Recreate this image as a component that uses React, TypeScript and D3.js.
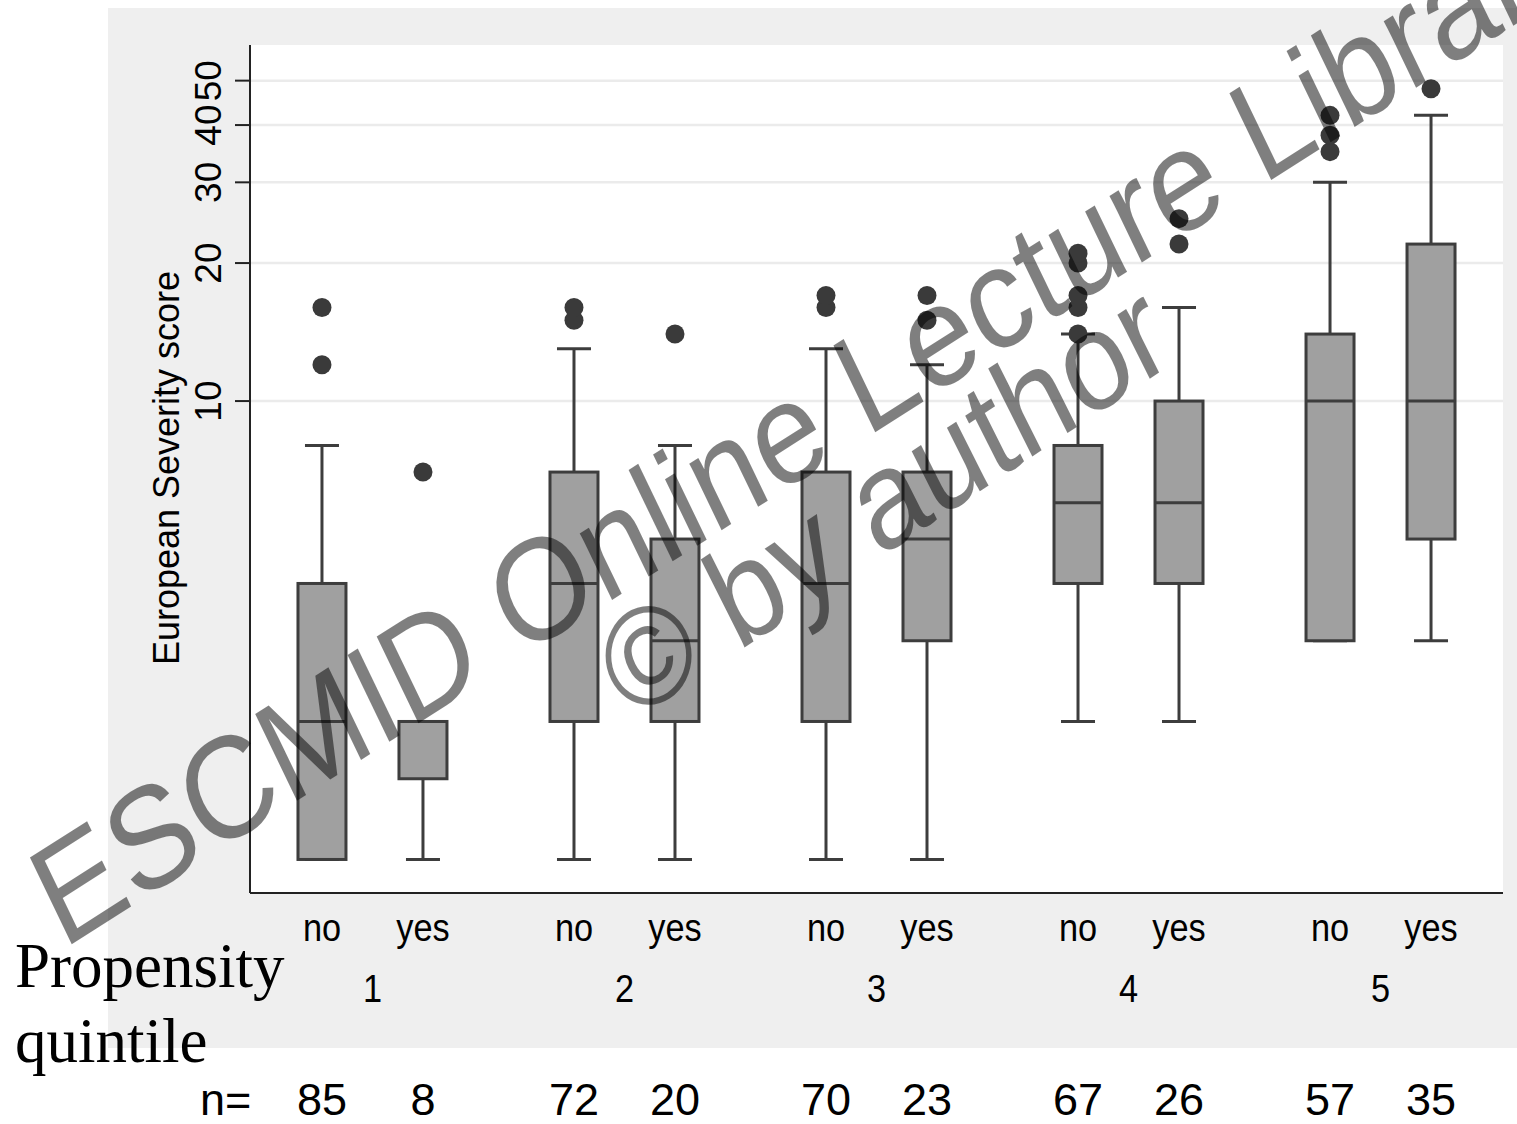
import React from 'react';
import * as d3 from 'd3';

// Propensity quintiles and the two treatment groups inside each one
const quintiles = ['1', '2', '3', '4', '5'];
const treatment = ['no', 'yes'];

// one entry per box, ordered 1-no, 1-yes, 2-no, ...
const counts = [85, 8, 72, 20, 70, 23, 67, 26, 57, 35];
const lowerWhisker = [1, 1, 1, 1, 1, 1, 2, 2, 3, 3];
const lowerQuartile = [1, 1.5, 2, 2, 2, 3, 4, 4, 3, 5];
const medians = [2, 2, 4, 3, 4, 5, 6, 6, 10, 10];
const upperQuartile = [4, 2, 7, 5, 7, 7, 8, 10, 14, 22];
const upperWhisker = [8, 2, 13, 8, 13, 12, 14, 16, 30, 42];
const outliers = [
  [12, 16],
  [7],
  [15, 16],
  [14],
  [16, 17],
  [15, 17],
  [14, 16, 17, 20, 21],
  [22, 25],
  [35, 38, 42],
  [48],
];

const yTicks = [10, 20, 30, 40, 50];

const W = 1517;
const H = 1124;
const plot = { left: 250, right: 1503, top: 45, bottom: 893 };

const sans = "'Liberation Sans', Arial, Helvetica, sans-serif";
const serif = "'Liberation Serif', 'Times New Roman', Times, serif";

const App = () => {
  const y = d3.scaleLog().domain([0.845, 59.8]).range([plot.bottom, plot.top]);
  const xGroup = d3.scalePoint<string>().domain(quintiles).range([plot.left, plot.right]).padding(0.486);
  const xSub = d3.scalePoint<string>().domain(treatment).range([-50.5, 50.5]);

  const boxes = counts.map((n, i) => {
    const g = quintiles[Math.floor(i / 2)];
    const t = treatment[i % 2];
    return {
      n,
      cx: (xGroup(g) as number) + (xSub(t) as number),
      t,
      lw: lowerWhisker[i],
      q1: lowerQuartile[i],
      med: medians[i],
      q3: upperQuartile[i],
      uw: upperWhisker[i],
      out: outliers[i],
    };
  });

  const boxW = 48;
  const capW = 34;
  const dark = '#3d3d3d';

  return (
    <svg width={W} height={H} style={{ position: 'absolute', left: 0, top: 0, background: '#fff' }}>
      {/* outer graph region */}
      <rect x={108} y={8} width={W - 108} height={1040} fill="#efefef" />
      {/* plot region */}
      <rect x={plot.left} y={plot.top} width={plot.right - plot.left} height={plot.bottom - plot.top} fill="#fff" />

      {/* grid */}
      {yTicks.map((t) => (
        <line key={t} x1={plot.left} x2={plot.right} y1={y(t)} y2={y(t)} stroke="#ebebeb" strokeWidth={2.5} />
      ))}

      {/* boxes */}
      {boxes.map((b, i) => (
        <g key={i} stroke={dark} strokeWidth={3}>
          <line x1={b.cx} x2={b.cx} y1={y(b.q3)} y2={y(b.uw)} />
          <line x1={b.cx - capW / 2} x2={b.cx + capW / 2} y1={y(b.uw)} y2={y(b.uw)} />
          <line x1={b.cx} x2={b.cx} y1={y(b.q1)} y2={y(b.lw)} />
          <line x1={b.cx - capW / 2} x2={b.cx + capW / 2} y1={y(b.lw)} y2={y(b.lw)} />
          <rect x={b.cx - boxW / 2} y={y(b.q3)} width={boxW} height={y(b.q1) - y(b.q3)} fill="#a0a0a0" />
          <line x1={b.cx - boxW / 2} x2={b.cx + boxW / 2} y1={y(b.med)} y2={y(b.med)} />
          {b.out.map((v, j) => (
            <circle key={j} cx={b.cx} cy={y(v)} r={9.5} fill="#3a3a3a" stroke="none" />
          ))}
        </g>
      ))}

      {/* axes */}
      <line x1={plot.left} x2={plot.left} y1={plot.top} y2={plot.bottom} stroke="#222" strokeWidth={2} />
      <line x1={plot.left} x2={plot.right} y1={plot.bottom} y2={plot.bottom} stroke="#222" strokeWidth={2} />
      {yTicks.map((t) => (
        <g key={t}>
          <line x1={plot.left - 15} x2={plot.left} y1={y(t)} y2={y(t)} stroke="#222" strokeWidth={2} />
          <text
            transform={`translate(221,${y(t)}) rotate(-90)`}
            textAnchor="middle"
            fontFamily={sans}
            fontSize={37}
            fill="#000"
          >
            {t}
          </text>
        </g>
      ))}
      <text
        transform="translate(179,468) rotate(-90)"
        textAnchor="middle"
        fontFamily={sans}
        fontSize={36}
        fill="#000"
      >
        European Severity score
      </text>

      {/* category labels */}
      {boxes.map((b, i) => (
        <text
          key={i}
          transform={`translate(${b.cx},941) scale(0.88,1)`}
          textAnchor="middle"
          fontFamily={sans}
          fontSize={39}
          fill="#000"
        >
          {b.t}
        </text>
      ))}
      {quintiles.map((q) => (
        <text
          key={q}
          transform={`translate(${xGroup(q)},1002) scale(0.88,1)`}
          textAnchor="middle"
          fontFamily={sans}
          fontSize={39}
          fill="#000"
        >
          {q}
        </text>
      ))}

      <text x={15} y={987} fontFamily={serif} fontSize={63} fill="#000">Propensity</text>
      <text x={15} y={1062} fontFamily={serif} fontSize={63} fill="#000">quintile</text>

      {/* sample sizes */}
      <text x={200} y={1115} fontFamily={sans} fontSize={45} fill="#000">n=</text>
      {boxes.map((b, i) => (
        <text key={i} x={b.cx} y={1115} textAnchor="middle" fontFamily={sans} fontSize={45} fill="#000">
          {b.n}
        </text>
      ))}

      {/* watermark, squeezed horizontally like the rest of the slide */}
      <g fontFamily={sans} fill="#000" fillOpacity={0.5} transform="scale(0.87,1)">
        <text transform="translate(72,950) rotate(-29)" fontSize={144}>ESCMID Online Lecture Library</text>
        <text transform="translate(725,723) rotate(-30)" fontSize={140}>© by author</text>
      </g>
    </svg>
  );
};

export default App;
